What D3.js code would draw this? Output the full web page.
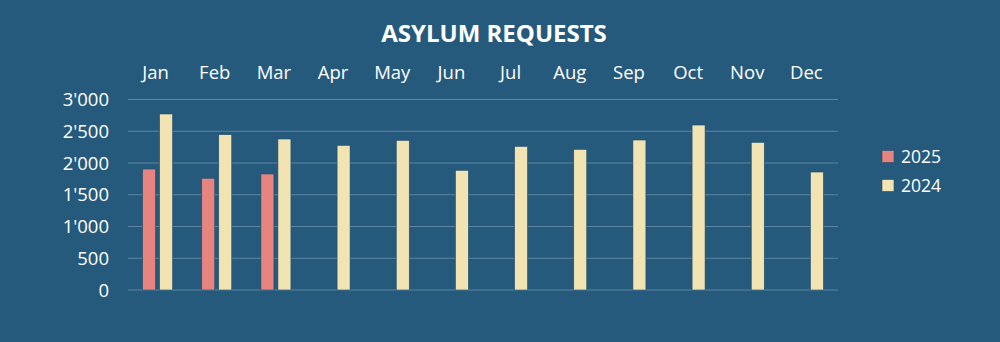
<!DOCTYPE html>
<html><head><meta charset="utf-8">
<script src="https://cdn.jsdelivr.net/npm/d3@7"></script>
<style>
html,body{margin:0;padding:0;background:#265a7c;}
svg{display:block;}
text{font-family:"Open Sans","Noto Sans",sans-serif;fill:#fff;}
</style></head>
<body>
<svg id="chart" width="1000" height="342"></svg>
<script>
const months = ["Jan","Feb","Mar","Apr","May","Jun","Jul","Aug","Sep","Oct","Nov","Dec"];
const values2025 = [1905, 1760, 1827];
const values2024 = [2772, 2446, 2378, 2278, 2357, 1885, 2262, 2215, 2362, 2598, 2326, 1858];
const seriesNames = ["2025", "2024"];
const seriesColors = ["#E8847F", "#F2E3B3"];
const yTicks = [0, 500, 1000, 1500, 2000, 2500, 3000];

const svg = d3.select("#chart");
svg.append("rect").attr("width",1000).attr("height",342).attr("fill","#265a7c");

const x = d3.scaleBand().domain(months).range([128, 838]).paddingInner(0).paddingOuter(0);
const y = d3.scaleLinear().domain([0, 3000]).range([290, 99.5]);
const barW = 13, gap = 4;

// gridlines
svg.append("g").selectAll("line").data(yTicks).join("line")
  .attr("x1", 128).attr("x2", 838)
  .attr("y1", d => y(d)).attr("y2", d => y(d))
  .attr("stroke", "#5d84a0").attr("stroke-width", 1.2);

// y axis labels
const fmt = d => d3.format(",")(d).replace(/,/g, "'");
svg.append("g").selectAll("text").data(yTicks).join("text")
  .attr("x", 109).attr("y", d => y(d)).attr("dy", "0.36em")
  .attr("text-anchor", "end").attr("font-size", 18.5).text(fmt);

// month labels at top
svg.append("g").selectAll("text").data(months).join("text")
  .attr("x", d => x(d) + x.bandwidth()/2 - 2).attr("y", 79)
  .attr("text-anchor", "middle").attr("font-size", 18.5).text(d => d);

// bars
const groupW = barW*2 + gap;
const data2025 = values2025.map((v,i) => ({m: months[i], v}));
const data2024 = values2024.map((v,i) => ({m: months[i], v}));
svg.append("g").selectAll("rect").data(data2025).join("rect")
  .attr("x", d => x(d.m) + x.bandwidth()/2 - groupW/2)
  .attr("y", d => y(d.v)).attr("width", barW).attr("height", d => y(0) - y(d.v))
  .attr("fill", seriesColors[0]).attr("stroke", "#1e4d6b").attr("stroke-width", 0.6);
svg.append("g").selectAll("rect").data(data2024).join("rect")
  .attr("x", d => x(d.m) + x.bandwidth()/2 - groupW/2 + barW + gap)
  .attr("y", d => y(d.v)).attr("width", barW).attr("height", d => y(0) - y(d.v))
  .attr("fill", seriesColors[1]).attr("stroke", "#1e4d6b").attr("stroke-width", 0.6);

// title
svg.append("text").attr("x", 494).attr("y", 42).attr("text-anchor", "middle")
  .attr("font-size", 24).attr("font-weight", "bold").text("ASYLUM REQUESTS");

// legend
const lg = svg.append("g").selectAll("g").data(seriesNames).join("g")
  .attr("transform", (d,i) => `translate(882,${150.5 + i*29})`);
lg.append("rect").attr("width", 12).attr("height", 12)
  .attr("fill", (d,i) => seriesColors[i]).attr("stroke", "#1e4d6b").attr("stroke-width", 0.6);
lg.append("text").attr("x", 19).attr("y", 6).attr("dy", "0.36em")
  .attr("font-size", 17.5).text(d => d);
</script>
</body></html>
